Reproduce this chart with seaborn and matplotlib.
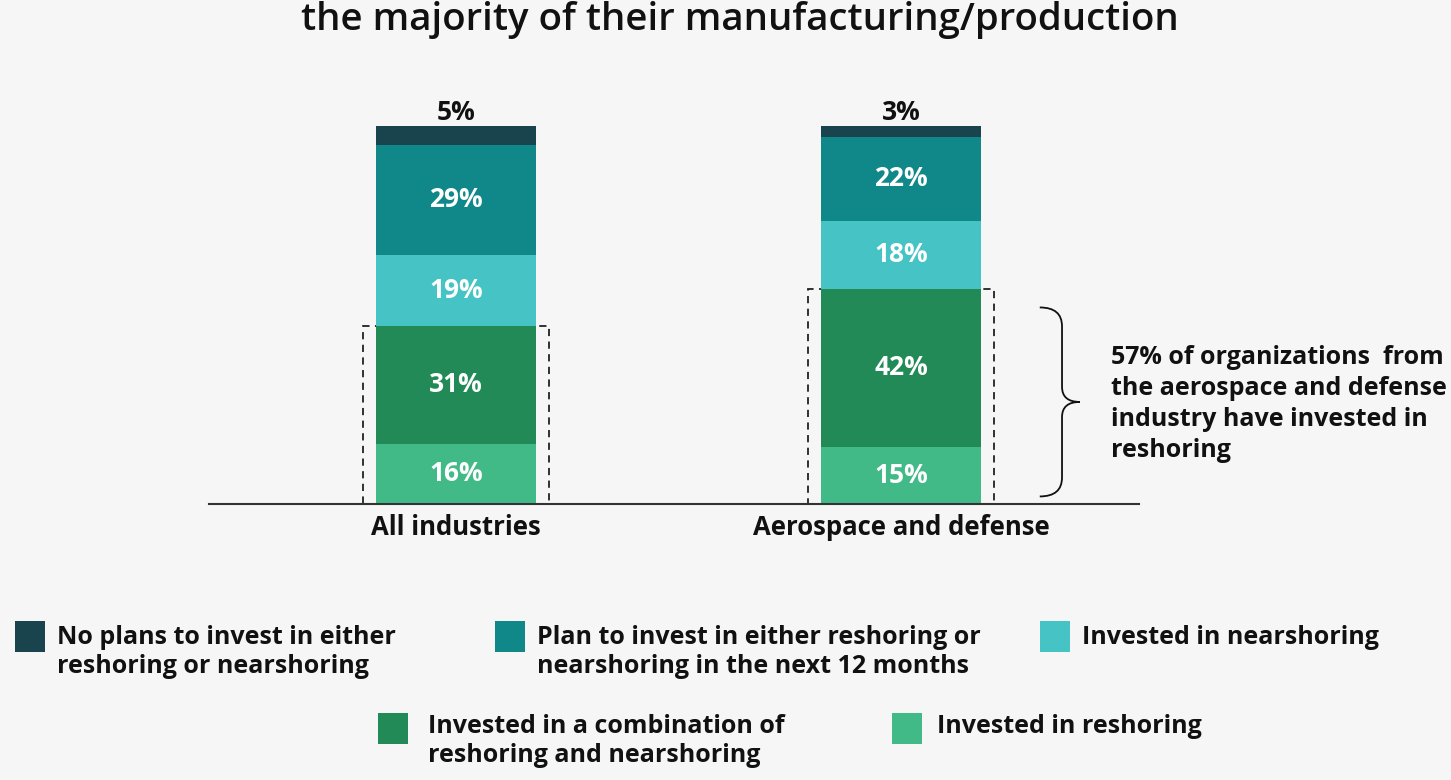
import numpy as np
import pandas as pd
import matplotlib.pyplot as plt
import matplotlib.patches as mpatches
from matplotlib.path import Path
import seaborn as sns

# data (percent of organizations)
categories = ["All industries", "Aerospace and defense"]
no_plans = [5, 3]
plan_invest = [29, 22]
nearshoring = [19, 18]
combination = [31, 42]
reshoring = [16, 15]

series_names = [
    "Invested in reshoring",
    "Invested in a combination of\nreshoring and nearshoring",
    "Invested in nearshoring",
    "Plan to invest in either reshoring or\nnearshoring in the next 12 months",
    "No plans to invest in either\nreshoring or nearshoring",
]
series_values = [reshoring, combination, nearshoring, plan_invest, no_plans]
colors = ["#41BA88", "#218A56", "#46C3C5", "#10888A", "#1A444D"]

BG = "#F6F6F6"
sns.set_theme(style="white")
plt.rcParams["font.family"] = ["Open Sans", "DejaVu Sans"]

W, H = 1451, 780
fig = plt.figure(figsize=(W / 100, H / 100), dpi=100, facecolor=BG)


def px(x, y):
    return x / W, 1 - y / H


ax = fig.add_axes([209 / W, 1 - 504 / H, 930 / W, 378 / H])
ax.set_facecolor(BG)

# cumulative stack, drawn tallest first so shorter bars sit in front
vals = np.array(series_values, dtype=float)
cum = np.cumsum(vals, axis=0)
for i in range(len(series_values) - 1, -1, -1):
    df = pd.DataFrame({"cat": categories, "val": cum[i]})
    sns.barplot(data=df, x="cat", y="val", color=colors[i], width=0.36,
                linewidth=0, saturation=1, ax=ax, zorder=2)

ax.set_xlim(-0.555, 1.535)
ax.set_ylim(0, 100)

# segment labels
for j in range(len(categories)):
    for i in range(len(series_values)):
        v = vals[i, j]
        if i == len(series_values) - 1:
            ax.annotate(f"{v:.0f}%", (j, cum[i, j]), xytext=(0, 0),
                        textcoords="offset points", ha="center", va="bottom",
                        fontsize=19, fontweight="bold", color="#111111")
        else:
            ax.text(j, cum[i, j] - v / 2, f"{v:.0f}%", ha="center", va="center",
                    fontsize=19, fontweight="bold", color="white", zorder=3)

# dashed boxes around the reshoring + combination part
for j in range(len(categories)):
    top = cum[1, j]
    ax.add_patch(mpatches.Rectangle((j - 0.209, 0), 0.418, top, fill=False,
                                    ls=(0, (4, 3)), lw=1.3, ec="#222222",
                                    zorder=1, clip_on=False))

# curly brace next to aerospace bar
x0, xm, xp = 1.312, 1.362, 1.402
yt, yb = cum[1, 1] - 5, 2
ym = (yt + yb) / 2
verts = [(x0, yt), (xm, yt), (xm, yt - 5), (xm, ym + 4), (xm, ym), (xp, ym),
         (xm, ym), (xm, ym - 4), (xm, yb + 5), (xm, yb), (x0, yb)]
codes = [Path.MOVETO, Path.CURVE3, Path.CURVE3, Path.LINETO, Path.CURVE3,
         Path.CURVE3, Path.CURVE3, Path.CURVE3, Path.LINETO, Path.CURVE3, Path.CURVE3]
ax.add_patch(mpatches.PathPatch(Path(verts, codes), fill=False, lw=1.3,
                                ec="#111111", zorder=3))

fig.text(*px(1111, 404), "57% of organizations  from\nthe aerospace and defense\n"
         "industry have invested in\nreshoring", ha="left", va="center",
         fontsize=18, fontweight="bold", color="#111111", linespacing=1.33)

# axes styling
for s in ["left", "top", "right"]:
    ax.spines[s].set_visible(False)
ax.spines["bottom"].set_color("#333333")
ax.spines["bottom"].set_linewidth(1.5)
ax.set_yticks([])
ax.set_xlabel("")
ax.set_ylabel("")
ax.tick_params(axis="x", length=0, pad=7)
for lab in ax.get_xticklabels():
    lab.set_fontsize(18.5)
    lab.set_fontweight("bold")
    lab.set_color("#111111")

fig.text(*px(740, 20), "the majority of their manufacturing/production",
         ha="center", va="center", fontsize=27.6, fontweight="semibold",
         color="#111111")

# legend
legend_items = [
    (4, 15, 621, 57, 4), (3, 495, 621, 537, 4), (2, 1040, 621, 1082, 4),
    (1, 378, 713, 428, 1), (0, 892, 713, 937, 1),
]
for idx, sx, sy, tx, dy in legend_items:
    fig.patches.append(mpatches.Rectangle(px(sx, sy + 31), 30 / W, 31 / H,
                                          transform=fig.transFigure,
                                          fc=colors[idx], ec="none"))
    fig.text(*px(tx, sy + dy), series_names[idx], ha="left", va="top",
             fontsize=18, fontweight="bold", color="#111111", linespacing=1.2)

fig.savefig("out.png", dpi=100, facecolor=BG)
